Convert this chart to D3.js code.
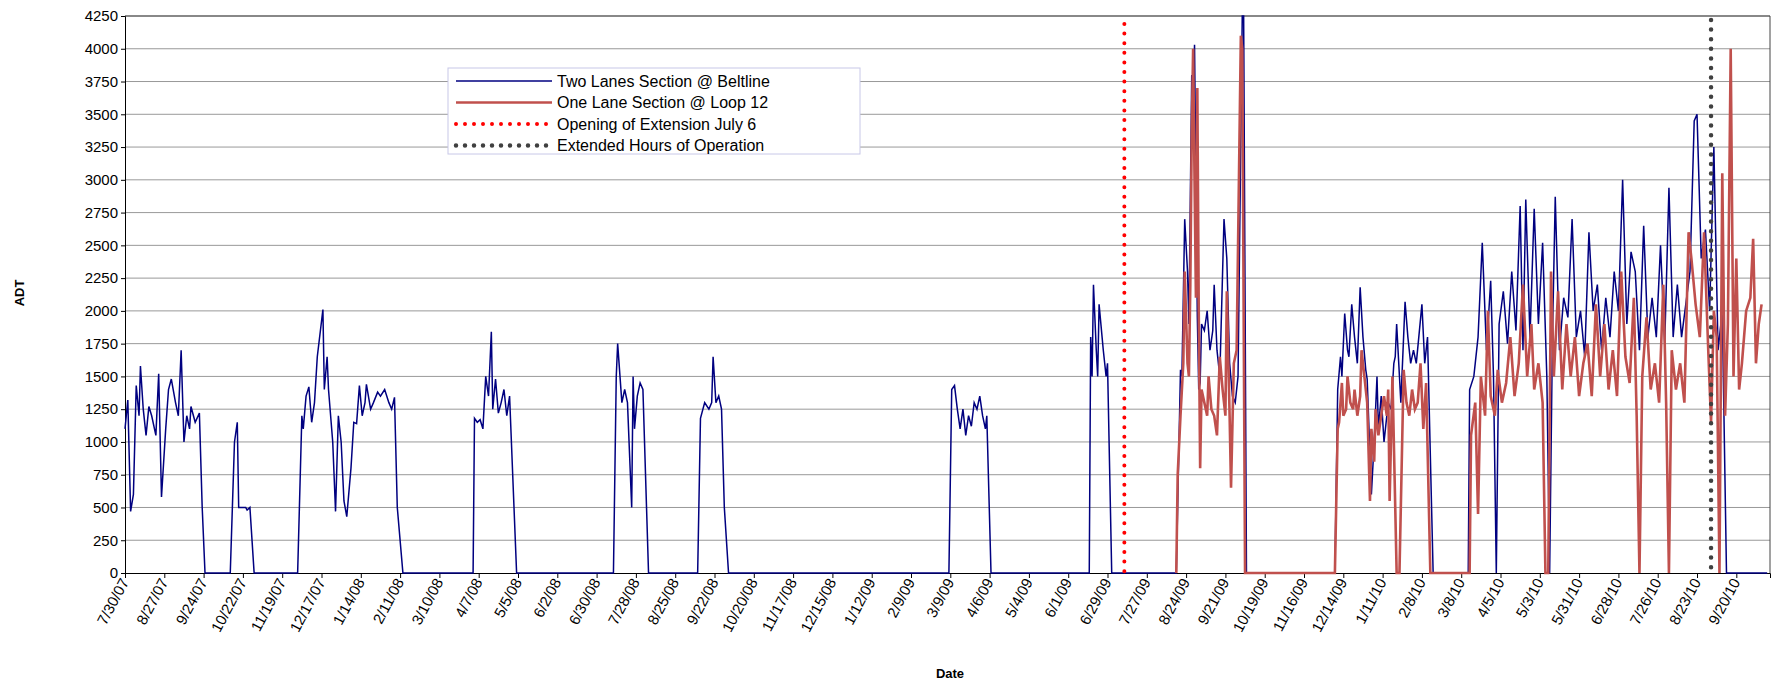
<!DOCTYPE html>
<html><head><meta charset="utf-8">
<script src="https://cdn.jsdelivr.net/npm/d3@7"></script>
<style>body{margin:0;background:#fff;font-family:Arial,"Liberation Sans",sans-serif}</style>
</head><body>
<script>
// day offsets from 7/30/07 and ADT values
var blueDay = [0,2,4,6,8,10,11,13,15,17,19,22,24,26,29,31,33,36,38,40,42,44,46,47,50,53,55,57,
 75,78,80,81,86,87,89,92,
 123,126,127,129,131,133,135,137,141,142,144,145,148,150,152,154,156,158,161,163,165,167,169,171,172,175,177,180,182,185,188,190,192,194,198,
 248,249,251,253,255,257,259,261,262,264,266,268,270,272,274,279,
 348,350,351,354,356,358,361,362,363,365,367,369,373,
 408,410,413,416,418,419,421,423,425,427,430,
 587,589,591,593,595,597,599,601,603,605,607,609,611,613,614,617,
 687,688,689,690,692,693,694,697,699,700,703,
 749,752,753,755,757,758,760,761,762,764,765,766,767,769,771,773,775,776,778,780,783,785,787,789,791,793,796,797,799,
 862,864,866,867,869,871,872,874,876,878,880,882,884,885,888,890,892,893,895,897,898,900,902,904,905,906,909,912,914,916,918,920,924,926,928,932,
 957,958,961,964,967,970,973,975,977,979,982,985,988,991,994,996,998,1001,1004,1007,1010,1013,1015,1017,1019,1022,1025,1028,1031,1034,1037,1040,1043,1046,1049,1052,1055,1058,1061,1064,1067,1070,1073,1076,1079,1082,1085,1088,1091,1094,1097,1100,1103,1106,1109,1112,1115,1118,1120,1123,1126,1129,1132,1135,1138,1141,1170];
var blueVal = [1100,1320,470,600,1430,1200,1580,1250,1050,1270,1200,1050,1520,580,1100,1400,1480,1300,1200,1700,1000,1200,1100,1270,1150,1220,500,0,
 0,1000,1150,500,500,480,500,0,
 0,1200,1100,1350,1420,1150,1300,1650,2010,1400,1650,1400,1000,470,1200,1000,550,430,800,1150,1140,1430,1200,1300,1440,1250,1300,1380,1350,1400,1300,1250,1340,500,0,
 0,1180,1150,1170,1100,1500,1350,1840,1250,1480,1220,1300,1400,1200,1350,0,
 0,1500,1750,1300,1400,1300,500,1500,1100,1350,1450,1400,0,
 0,1180,1300,1250,1300,1650,1300,1350,1250,500,0,
 0,1400,1430,1250,1100,1250,1050,1200,1120,1300,1250,1350,1200,1100,1200,0,
 0,1800,1500,2200,1700,1500,2050,1700,1500,1600,0,
 0,1550,1500,2700,2300,1900,3800,3450,4030,1950,1400,1450,1900,1850,2000,1700,1850,2200,1700,1500,2700,2400,1600,1350,1300,1500,4250,4250,0,
 0,1400,1650,1500,1980,1700,1650,2050,1800,1600,2180,1800,1550,1480,600,1000,1500,1100,1350,1000,1100,1300,1250,1600,1650,1900,1300,2070,1800,1600,1700,1600,2050,1600,1800,0,
 0,1400,1500,1800,2520,1700,2230,1500,0,1900,2150,1750,2300,1850,2800,1700,2850,1800,2780,1900,2520,1500,0,1800,2870,1700,2100,1950,2700,1800,2000,1650,2600,2000,2200,1700,2100,1800,2300,2000,3000,1900,2450,2300,1700,2650,1800,2100,1800,2500,1750,2940,1800,2200,1800,2050,2300,3450,3500,2400,2620,2000,3250,1700,2000,0,0];
var redDay = [749,750,752,754,755,757,758,759,760,761,762,763,764,765,766,767,769,771,772,774,776,778,780,782,784,785,787,788,790,792,795,796,798,
 862,864,865,866,867,868,870,871,873,875,876,878,880,881,883,885,887,888,890,891,893,895,897,899,900,901,903,906,908,911,913,915,917,919,921,923,925,927,930,
 958,959,962,964,966,969,971,973,976,978,981,984,987,990,993,996,999,1002,1004,1007,1010,1012,1014,1016,1018,1021,1024,1027,1030,1033,1036,1039,1042,1045,1048,1051,1054,1057,1060,1063,1066,1069,1072,1075,1077,1079,1081,1084,1087,1090,1093,1096,1098,1100,1102,1105,1108,1111,1114,1116,1119,1122,1125,1128,1130,1132,1134,1136,1138,1140,1142,1144,1146,1148,1150,1152,1155,1158,1160,1162,1164,1166];
var redVal = [0,750,1200,1600,2300,1600,1500,2200,3350,4000,3000,2100,3700,2000,800,1400,1300,1200,1500,1250,1200,1050,1650,1400,1200,2150,1200,650,1600,1700,4100,4000,0,
 0,1100,1150,1300,1450,1200,1250,1500,1300,1250,1400,1200,1350,1700,1500,1300,550,1100,850,1250,1050,1200,1350,1200,1400,550,1500,0,0,1550,1300,1200,1400,1250,1300,1600,1100,1450,0,
 0,1050,1300,450,1500,1200,2000,1350,1200,1550,1300,1450,1800,1350,1600,2200,1500,1900,1400,1600,1300,0,0,2300,1500,2150,1400,1900,1500,1800,1350,1600,1750,1350,2050,1500,1900,1400,1700,1350,2300,1650,1450,2100,1200,0,1500,1950,1400,1600,1300,2200,1300,0,1700,1400,1600,1300,2600,2400,2050,1800,2600,1700,1150,2000,1800,0,3050,1200,1900,4000,1500,2400,1400,1600,2000,2100,2550,1600,1900,2050];
var yTicks = d3.range(0, 4251, 250);
var openingDay = 712, extendedDay = 1130;
var start = new Date(2007, 6, 30);

var W = 1781, H = 683;
var margin = {left: 125, top: 16, right: 11, bottom: 110};
var svg = d3.select("body").append("svg").attr("width", W).attr("height", H);
var g = svg.append("g").attr("transform", "translate(" + margin.left + "," + margin.top + ")");
var iw = W - margin.left - margin.right, ih = H - margin.top - margin.bottom;

function dt(d) { return d3.timeDay.offset(start, d); }
var x = d3.scaleTime().domain([start, dt(1172)]).range([0, iw]);
var y = d3.scaleLinear().domain([0, 4250]).range([ih, 0]);

// grid
g.selectAll(".grid").data(yTicks.slice(1)).enter().append("line")
  .attr("x1", 0).attr("x2", iw).attr("y1", y).attr("y2", y)
  .attr("stroke", "#999").attr("stroke-width", 1);
g.append("line").attr("x1", 0).attr("x2", iw).attr("y1", 0).attr("y2", 0).attr("stroke", "#444");
g.append("line").attr("x1", iw).attr("x2", iw).attr("y1", 0).attr("y2", ih).attr("stroke", "#444");

// y axis
var ya = g.append("g").call(d3.axisLeft(y).tickValues(yTicks).tickFormat(d3.format("d")).tickSize(4).tickPadding(3));
ya.selectAll("text").style("font-size", "15px").style("fill", "#000").style("font-family", "Arial,'Liberation Sans',sans-serif");
ya.select(".domain").attr("stroke", "#000");

// x axis
var xTicks = d3.range(0, 1149, 28).map(dt);
var xa = g.append("g").attr("transform", "translate(0," + ih + ")")
  .call(d3.axisBottom(x).tickValues(xTicks).tickSize(5).tickFormat(d3.timeFormat("%-m/%-d/%y")));
xa.select(".domain").attr("stroke", "#000");
xa.selectAll("text").attr("transform", "rotate(-62)").attr("text-anchor", "end")
  .attr("dx", "-0.4em").attr("dy", "0.1em").attr("y", 6)
  .style("font-size", "15px").style("fill", "#000").style("font-family", "Arial,'Liberation Sans',sans-serif");

// lines
var line = d3.line().x(function(d) { return x(dt(d[0])); }).y(function(d) { return y(d[1]); });
g.append("path").datum(d3.zip(blueDay, blueVal)).attr("d", line)
  .attr("fill", "none").attr("stroke", "#000080").attr("stroke-width", 1.5);
g.append("path").datum(d3.zip(redDay, redVal)).attr("d", line)
  .attr("fill", "none").attr("stroke", "#c0504d").attr("stroke-width", 2.6);

// vertical markers
g.append("line").attr("x1", x(dt(openingDay))).attr("x2", x(dt(openingDay))).attr("y1", 8).attr("y2", ih)
  .attr("stroke", "#ff0000").attr("stroke-width", 4).attr("stroke-linecap", "round").attr("stroke-dasharray", "0,9.6");
g.append("line").attr("x1", x(dt(extendedDay))).attr("x2", x(dt(extendedDay))).attr("y1", 4).attr("y2", ih)
  .attr("stroke", "#404040").attr("stroke-width", 4.5).attr("stroke-linecap", "round").attr("stroke-dasharray", "0,9.6");

// axis titles
svg.append("text").attr("transform", "translate(24,293) rotate(-90)").attr("text-anchor", "middle")
  .style("font-size", "13px").style("font-weight", "bold").text("ADT");
svg.append("text").attr("x", 950).attr("y", 678).attr("text-anchor", "middle")
  .style("font-size", "13px").style("font-weight", "bold").text("Date");

// legend
var leg = svg.append("g").attr("transform", "translate(448,68)");
leg.append("rect").attr("width", 412).attr("height", 86).attr("fill", "#fff").attr("stroke", "#c8c8e8");
var items = [
  {t: "Two Lanes Section @ Beltline", c: "#000080", w: 1.5, da: null},
  {t: "One Lane Section @ Loop 12", c: "#c0504d", w: 2.6, da: null},
  {t: "Opening of Extension July 6", c: "#ff0000", w: 4, da: "0,9"},
  {t: "Extended Hours of Operation", c: "#404040", w: 4.5, da: "0,9"}];
items.forEach(function(it, i) {
  var yy = 13 + i * 21.5;
  leg.append("line").attr("x1", 8).attr("x2", 104).attr("y1", yy).attr("y2", yy)
    .attr("stroke", it.c).attr("stroke-width", it.w).attr("stroke-linecap", it.da ? "round" : "butt")
    .attr("stroke-dasharray", it.da);
  leg.append("text").attr("x", 109).attr("y", yy + 5.5).style("font-size", "16px").text(it.t);
});
</script>
</body></html>
